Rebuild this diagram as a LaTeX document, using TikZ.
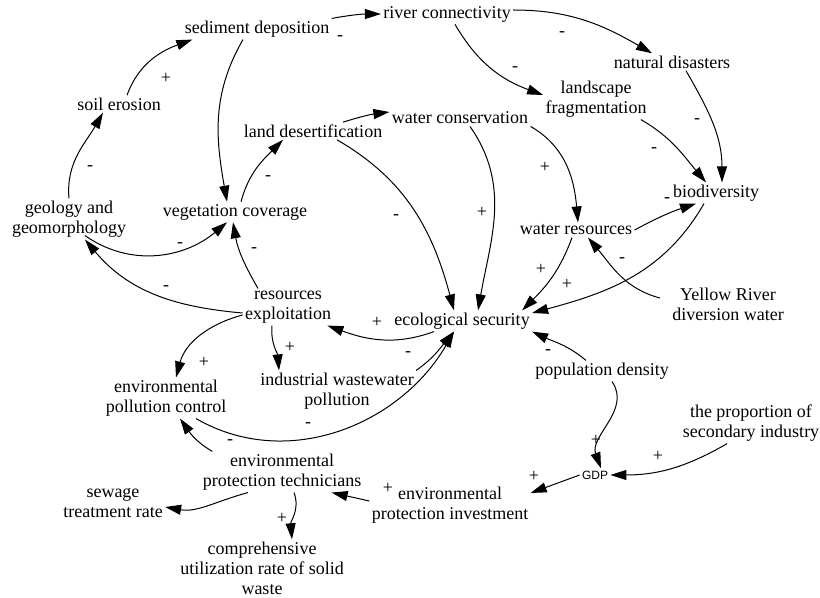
\documentclass[tikz,border=0pt]{standalone}
\usepackage{fontspec}
\setmainfont{Liberation Serif}
\newfontfamily\gdpfont{Liberation Sans}
\usetikzlibrary{arrows.meta}

\begin{document}
\begin{tikzpicture}[x=0.5pt,y=0.5pt,
        var/.style={align=center,inner sep=1pt,font=\fontsize{9}{10}\selectfont},
        sign/.style={inner sep=0pt,font=\fontsize{9}{10}\selectfont},
        link/.style={line width=0.5pt,-{Triangle[length=8pt,width=5pt]}}]
                \useasboundingbox (0,0) rectangle (820,-598);
                \node[var] (sed) at (257,-29) {sediment deposition};
                \node[var] (river) at (447,-14) {river connectivity};
                \node[var] (nat) at (672,-62) {natural disasters};
                \node[var] (land) at (596,-99) {landscape\\fragmentation};
                \node[var] (wcons) at (460,-118) {water conservation};
                \node[var] (des) at (313,-131) {land desertification};
                \node[var] (soil) at (119,-104) {soil erosion};
                \node[var] (geo) at (69,-219) {geology and\\geomorphology};
                \node[var] (veg) at (235,-212) {vegetation coverage};
                \node[var] (bio) at (716,-193) {biodiversity};
                \node[var] (wres) at (576,-230) {water resources};
                \node[var] (yr) at (728,-304) {Yellow River\\diversion water};
                \node[var] (eco) at (462,-321) {ecological security};
                \node[var] (resx) at (288,-307) {resources\\exploitation};
                \node[var] (iwp) at (337,-391) {industrial wastewater\\pollution};
                \node[var] (epc) at (166,-398) {environmental\\pollution control};
                \node[var] (pop) at (602,-371) {population density};
                \node[var] (prop) at (751,-423) {the proportion of\\secondary industry};
                \node[var,font=\gdpfont\fontsize{6}{7}\selectfont] (gdp) at (595,-475) {GDP};
                \node[var] (epi) at (450,-505) {environmental\\protection investment};
                \node[var] (ept) at (282,-472) {environmental\\protection technicians};
                \node[var] (sew) at (113,-503) {sewage\\treatment rate};
                \node[var] (cur) at (262,-568) {comprehensive\\utilization rate of solid\\waste};
                \draw[link] ([xshift=4pt]soil.north) to[out=70,in=200] ([xshift=5pt]sed.south west);
                \draw[link] (geo.north) to[out=95,in=240] ([xshift=-8pt]soil.south);
                \draw[link] ([xshift=-7pt]sed.south) to[out=240,in=100] ([xshift=-4pt]veg.north);
                \draw[link] (sed.north east) to[bend left=5] (river.west);
                \draw[link] ([yshift=2pt]river.east) to[out=0,in=150] ([xshift=-10pt]nat.north);
                \draw[link] ([xshift=4pt]river.south) to[out=-60,in=160] ([yshift=2pt]land.west);
                \draw[link] ([xshift=7pt]nat.south) to[out=-60,in=90] ([xshift=3pt]bio.north);
                \draw[link] ([xshift=-4pt]land.south east) to[out=-30,in=130] ([xshift=-5pt]bio.north);
                \draw[link] ([xshift=3pt]veg.north) to[out=75,in=225] ([xshift=-15pt]des.south);
                \draw[link] ([xshift=15pt]des.north) to[bend left=5] ([yshift=3pt]wcons.west);
                \draw[link] ([xshift=12pt]des.south) to[out=-30,in=105] ([xshift=-4pt]eco.north);
                \draw[link] ([xshift=5pt]wcons.south) to[out=-55,in=80] ([xshift=8pt]eco.north);
                \draw[link] (wcons.south east) to[out=-30,in=95] ([xshift=1pt]wres.north);
                \draw[link] (wres.east) to[bend left=5] ([xshift=-10pt]bio.south);
                \draw[link] ([xshift=-6pt]bio.south) to[out=240,in=15] ([yshift=4pt]eco.east);
                \draw[link] ([xshift=-2pt]wres.south) to[out=250,in=45] ([xshift=-5pt]eco.north east);
                \draw[link] ([xshift=-5pt,yshift=3pt]yr.west) to[out=165,in=-50] ([xshift=6pt]wres.south);
                \draw[link] ([xshift=-14pt]eco.south) to[out=200,in=-20] ([xshift=-3pt]resx.south east);
                \draw[link] ([yshift=-3pt]resx.west) to[out=175,in=-50] ([xshift=8pt]geo.south);
                \draw[link] ([xshift=8pt,yshift=2pt]geo.south) to[out=-35,in=220] ([xshift=-4pt]veg.south);
                \draw[link] ([xshift=-15pt]resx.north) to[out=120,in=-80] ([xshift=-1pt]veg.south);
                \draw[link] ([yshift=-4pt]resx.west) to[out=195,in=75] ([xshift=5pt]epc.north);
                \draw[link] ([xshift=-8pt]resx.south) to[out=-95,in=95] ([xshift=-29pt]iwp.north);
                \draw[link] (iwp.north east) to[out=35,in=230] ([xshift=-4pt]eco.south);
                \draw[link] ([xshift=15pt]epc.south) to[out=-30,in=240] ([xshift=-4pt]eco.south);
                \draw[link] ([xshift=-8pt]pop.north) to[out=140,in=-25] (eco.south east);
                \draw[link] ([xshift=5pt]pop.south) to[out=-55,in=110] ([xshift=3pt]gdp.north);
                \draw[link] ([xshift=-12pt]prop.south) to[out=210,in=0] (gdp.east);
                \draw[link] (gdp.west) -- ([yshift=6pt]epi.east);
                \draw[link] ([yshift=2pt]epi.west) -- ([xshift=-16pt]ept.south east);
                \draw[link] ([xshift=6pt]ept.north west) to[out=150,in=-55] ([xshift=7pt]epc.south);
                \draw[link] ([xshift=-17pt]ept.south) to[out=195,in=-10] ([yshift=-2pt]sew.east);
                \draw[link] ([xshift=6pt]ept.south) to[out=-70,in=95] ([xshift=15pt]cur.north);
                \node[sign] (s1) at (166,-78) {+};
                \node[sign] (s2) at (90,-168) {-};
                \node[sign] (s3) at (340,-38) {-};
                \node[sign] (s4) at (562,-34) {-};
                \node[sign] (s5) at (515,-69) {-};
                \node[sign] (s6) at (697,-121) {-};
                \node[sign] (s7) at (654,-150) {-};
                \node[sign] (s8) at (268,-178) {-};
                \node[sign] (s9) at (396,-217) {-};
                \node[sign] (s10) at (482,-212) {+};
                \node[sign] (s11) at (545,-167) {+};
                \node[sign] (s12) at (667,-200) {-};
                \node[sign] (s13) at (622,-260) {-};
                \node[sign] (s14) at (541,-269) {+};
                \node[sign] (s15) at (567,-284) {+};
                \node[sign] (s16) at (377,-322) {+};
                \node[sign] (s17) at (166,-288) {-};
                \node[sign] (s18) at (180,-245) {-};
                \node[sign] (s19) at (254,-250) {-};
                \node[sign] (s20) at (204,-362) {+};
                \node[sign] (s21) at (290,-347) {+};
                \node[sign] (s22) at (408,-354) {-};
                \node[sign] (s23) at (308,-425) {-};
                \node[sign] (s24) at (548,-352) {-};
                \node[sign] (s25) at (596,-440) {+};
                \node[sign] (s26) at (658,-456) {+};
                \node[sign] (s27) at (534,-476) {+};
                \node[sign] (s28) at (388,-488) {+};
                \node[sign] (s29) at (230,-442) {-};
                \node[sign] (s30) at (282,-518) {+};
            \end{tikzpicture}
\end{document}
